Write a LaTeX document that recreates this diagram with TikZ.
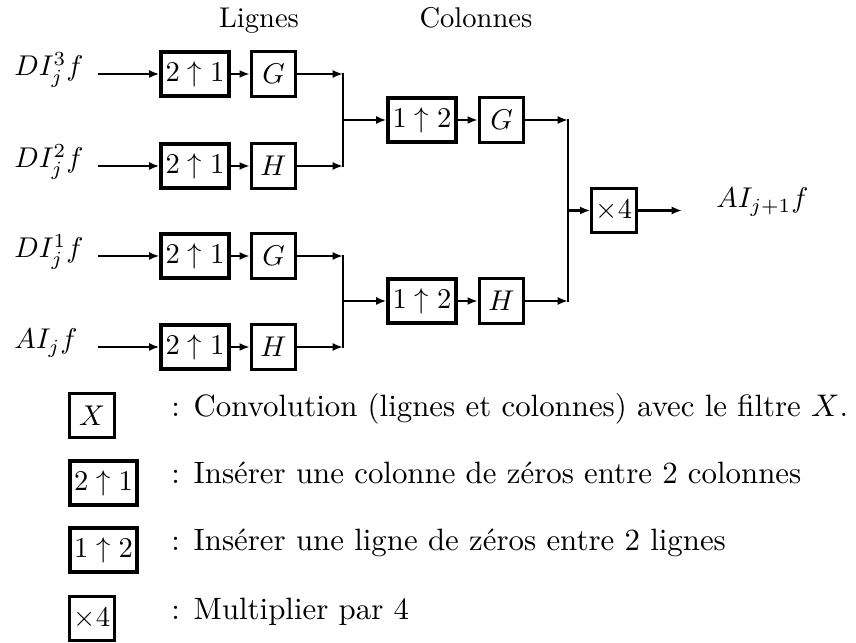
\documentclass[tikz,border=0pt]{standalone}
\usetikzlibrary{arrows.meta}
\begin{document}
\begin{tikzpicture}[x=0.35pt,y=-0.35pt,
  line width=1pt,
  >={Latex[length=3.6pt,width=2.8pt]},
  upbox/.style={draw,line width=1.4pt,minimum width=23.5pt,minimum height=15.4pt,inner sep=0pt},
  filt/.style={draw,line width=1pt,minimum width=15.6pt,minimum height=15.6pt,inner sep=0pt},
  lbl/.style={anchor=base west,inner sep=0pt},
  keytext/.style={lbl,font=\fontsize{10.8pt}{13pt}\selectfont},
  vbar/.style={line cap=rect}
]
\useasboundingbox (0,0) rectangle (856,643);

% column headings
\node[anchor=base,inner sep=0pt] (hl) at (259,28) {Lignes};
\node[anchor=base,inner sep=0pt] (hc) at (476,28) {Colonnes};

% inputs
\node[lbl] (i1) at (13,76) {$DI^3_jf$};
\node[lbl] (i2) at (13,168) {$DI^2_jf$};
\node[lbl] (i3) at (13,258) {$DI^1_jf$};
\node[lbl] (i4) at (13,349) {$AI_jf$};
\coordinate (s1) at (98,74);
\coordinate (s2) at (98,166);
\coordinate (s3) at (98,256);
\coordinate (s4) at (98,347);

% row stage: upsampling along rows, then filtering
\node[upbox] (u1) at (195,74)  {$2\uparrow1$};
\node[upbox] (u2) at (195,166) {$2\uparrow1$};
\node[upbox] (u3) at (195,256) {$2\uparrow1$};
\node[upbox] (u4) at (195,347) {$2\uparrow1$};
\node[filt] (f1) at (273.5,74)  {$G$};
\node[filt] (f2) at (273.5,166) {$H$};
\node[filt] (f3) at (273.5,256) {$G$};
\node[filt] (f4) at (273.5,347) {$H$};

\foreach \k in {1,2,3,4}{
  \draw[->] (s\k) -- (u\k.west);
  \draw[->] (u\k.east) -- (f\k.west);
}

% first junctions
\coordinate (ja) at (343,120);
\coordinate (jb) at (343,301);
\draw[->] (f1.east) -- (f1.east -| ja);
\draw[->] (f2.east) -- (f2.east -| ja);
\draw[vbar] (ja |- f1.east) -- (ja |- f2.east);
\draw[->] (f3.east) -- (f3.east -| jb);
\draw[->] (f4.east) -- (f4.east -| jb);
\draw[vbar] (jb |- f3.east) -- (jb |- f4.east);

% column stage
\node[upbox] (v1) at (422,120) {$1\uparrow2$};
\node[upbox] (v2) at (422,301) {$1\uparrow2$};
\node[filt] (g1) at (501.5,120) {$G$};
\node[filt] (g2) at (501.5,301) {$H$};
\draw[->] (ja) -- (v1.west);
\draw[->] (jb) -- (v2.west);
\draw[->] (v1.east) -- (g1.west);
\draw[->] (v2.east) -- (g2.west);

% final junction and gain
\coordinate (jc) at (568,210.5);
\draw[->] (g1.east) -- (g1.east -| jc);
\draw[->] (g2.east) -- (g2.east -| jc);
\draw[vbar] (jc |- g1.east) -- (jc |- g2.east);
\node[filt] (m) at (614,210.5) {$\times4$};
\draw[->] (jc) -- (m.west);
\coordinate (out) at (682,210.5);
\draw[->] (m.east) -- (out);
\node[lbl] (o) at (715,208) {$AI_{j+1}f$};

% legend
\node[filt,minimum width=15.8pt] (kx) at (92,415.5) {$X$};
\node[upbox] (ku) at (103.5,483) {$2\uparrow1$};
\node[upbox] (kv) at (103.5,550) {$1\uparrow2$};
\node[filt,minimum width=15.8pt] (km) at (92,618.5) {$\times4$};
\node[keytext] (tx) at (170,416.5) {: Convolution (lignes et colonnes) avec le filtre $X$.};
\node[keytext] (tu) at (170,484) {: Insérer une colonne de zéros entre 2 colonnes};
\node[keytext] (tv) at (170,551) {: Insérer une ligne de zéros entre 2 lignes};
\node[keytext] (tm) at (170,619.5) {: Multiplier par 4};
\end{tikzpicture}
\end{document}
